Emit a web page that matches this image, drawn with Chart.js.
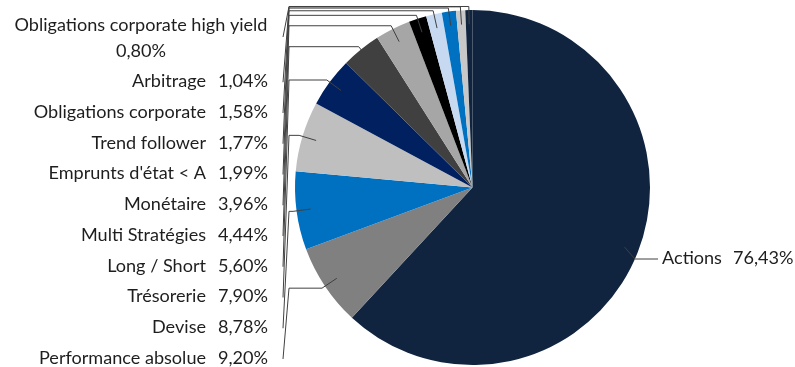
<!DOCTYPE html>
<html><head><meta charset="utf-8">
<script src="https://cdn.jsdelivr.net/npm/chart.js@4"></script>
<style>html,body{margin:0;padding:0;background:#fff}#wrap{width:795px;height:367px;position:relative}</style>
</head><body><div id="wrap"><canvas id="c" width="795" height="367"></canvas></div>
<script>
const categories = ["Actions","Performance absolue","Devise","Trésorerie","Long / Short","Multi Stratégies","Monétaire","Emprunts d'état < A","Trend follower","Obligations corporate","Arbitrage","Obligations corporate high yield"];
const values = [76.43, 9.20, 8.78, 7.90, 5.60, 4.44, 3.96, 1.99, 1.77, 1.58, 1.04, 0.80];
const sliceColors = ["#10243F","#808080","#0070C0","#BFBFBF","#002060","#404040","#A6A6A6","#000000","#C6D9F1","#0070C0","#C8C8C8","#10243F"];

const fmt = v => v.toFixed(2).replace('.', ',') + '%';
const FONT_FAMILY = 'Lato, "Liberation Sans", sans-serif';
const TEXT_COLOR = '#1E1E1E';
const LINE_COLOR = '#404040';

function fontSize(ctx){
  ctx.font = '100px ' + FONT_FAMILY;
  const w = ctx.measureText('Obligations corporate high yield').width;
  return 100 * 253 / w;
}

const callouts = {
  id: 'callouts',
  afterDatasetsDraw(chart){
    const ctx = chart.ctx;
    const meta = chart.getDatasetMeta(0);
    ctx.save();
    const fs = fontSize(ctx);
    ctx.font = fs.toFixed(2) + 'px ' + FONT_FAMILY;
    ctx.fillStyle = TEXT_COLOR;
    ctx.textBaseline = 'middle';
    ctx.strokeStyle = LINE_COLOR;
    ctx.lineWidth = 1;
    const n = meta.data.length;
    meta.data.forEach((arc, i) => {
      const p = arc.getProps(['x','y','startAngle','endAngle','outerRadius'], true);
      const mid = (p.startAngle + p.endAngle) / 2;
      const r = p.outerRadius;
      const ex = p.x + Math.cos(mid) * r * 0.92, ey = p.y + Math.sin(mid) * r * 0.92;
      const kx = p.x + Math.cos(mid) * r * 1.02, ky = p.y + Math.sin(mid) * r * 1.02;
      ctx.beginPath();
      if (i === 0) {
        const labelY = 258;
        const edgeX = p.x + Math.sqrt(Math.max(0, r * r - (labelY + 1 - p.y) * (labelY + 1 - p.y)));
        ctx.moveTo(ex, ey); ctx.lineTo(edgeX, labelY + 1); ctx.lineTo(658, labelY + 1);
        ctx.stroke();
        ctx.textAlign = 'left';
        ctx.fillText(categories[i], 662, labelY);
        ctx.fillText(fmt(values[i]), 733, labelY);
        return;
      }
      let labelY, anchorY;
      if (i === n - 1) {
        anchorY = 37;
        ctx.textAlign = 'center';
        ctx.fillText(categories[i], 141, 25);
        ctx.fillText(fmt(values[i]), 141, 51);
      } else {
        labelY = 358 - (i - 1) * 30.75;
        anchorY = labelY + 1;
        ctx.textAlign = 'right';
        ctx.fillText(categories[i], 206, labelY);
        ctx.fillText(fmt(values[i]), 268, labelY);
      }
      ctx.moveTo(283, anchorY);
      ctx.lineTo(289, ky);
      if (kx > 289) ctx.lineTo(kx, ky);
      ctx.lineTo(ex, ey);
      ctx.stroke();
    });
    ctx.restore();
  }
};

new Chart(document.getElementById('c'), {
  type: 'pie',
  data: {
    labels: categories,
    datasets: [{ data: values, backgroundColor: sliceColors, borderWidth: 0, hoverOffset: 0, offset: 0 }]
  },
  options: {
    responsive: false,
    animation: false,
    events: [],
    layout: { padding: { left: 295, right: 145, top: 10, bottom: 2 } },
    plugins: { legend: { display: false }, tooltip: { enabled: false } }
  },
  plugins: [callouts]
});
</script>
</body></html>
